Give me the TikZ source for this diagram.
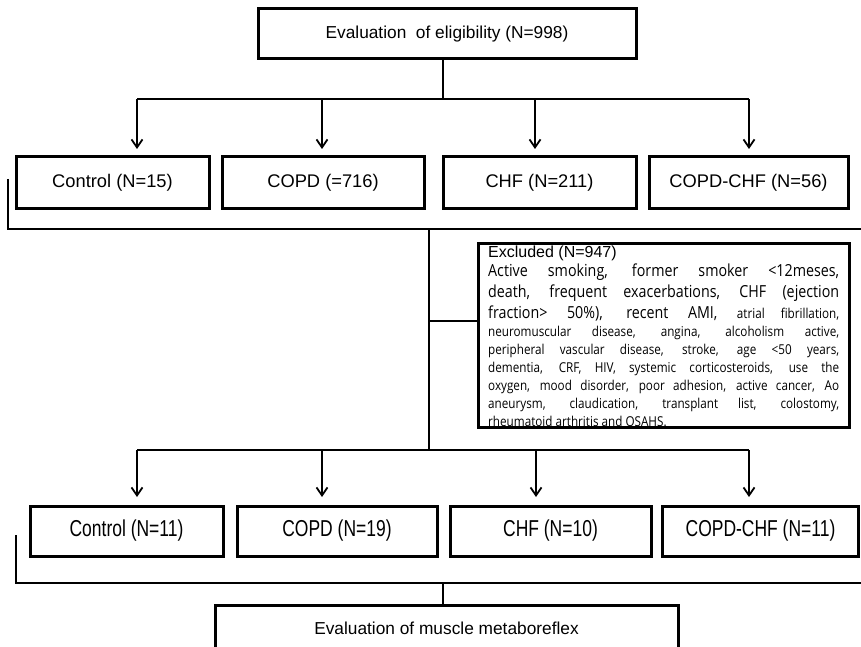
\documentclass[tikz,border=0pt]{standalone}
\usepackage{fontspec}
\setmainfont{Liberation Sans}
\newfontfamily\fb[FakeStretch=0.76]{Liberation Sans}
\newfontfamily\fx[FakeStretch=0.86]{Open Sans}
\usetikzlibrary{arrows.meta}
\newcommand{\bigx}{\fx\fontsize{16.6}{19}\selectfont}
\newcommand{\smx}{\fx\fontsize{13.6}{16}\selectfont}
\newcommand{\jl}[1]{\makebox[351pt][s]{#1}}
\begin{document}
\begin{tikzpicture}[x=1pt,y=-1pt,
  box/.style={draw, line width=3pt, inner sep=0pt},
  ln/.style={line width=2.8pt},
  arr/.style={ln, -{Straight Barb[length=8pt,width=11pt,line width=1.8pt]}},
  ta/.style={font=\fontsize{18.3}{22}\selectfont},
  tb/.style={font=\fb\fontsize{23}{26}\selectfont},
  tc/.style={font=\fontsize{17.3}{21}\selectfont},
  ex/.style={anchor=base west, inner sep=0pt}]
\path[use as bounding box] (0,0) rectangle (861,647);
% boxes
\node[box, minimum width=378pt, minimum height=50pt] (top) at (447,34) {};
\node[tc] (toptxt) at (447,34) {Evaluation\ \ of eligibility (N=998)};

\node[box, minimum width=193pt, minimum height=51pt, ta] (c1) at (112.5,182.5) {Control (N=15)};
\node[box, minimum width=202pt, minimum height=51pt, ta] (c2) at (323,182.5) {COPD (=716)};
\node[box, minimum width=193pt, minimum height=51pt, ta] (c3) at (539.5,182.5) {CHF (N=211)};
\node[box, minimum width=199pt, minimum height=51pt, ta] (c4) at (748.5,182.5) {COPD-CHF (N=56)};

\node[ex, font=\fontsize{16}{19}\selectfont] (e0) at (488,257) {Excluded (N=947)};
\node[ex] (e1) at (488,276.5) {\bigx\jl{Active smoking, former smoker <12meses,}};
\node[ex] (e2) at (488,297.5) {\bigx\jl{death, frequent exacerbations, CHF (ejection}};
\node[ex] (e3) at (488,318.5) {\bigx\jl{fraction> 50\%), recent AMI, {\smx atrial fibrillation,}}};
\node[ex] (e4) at (488,336.5) {\smx\jl{neuromuscular disease, angina, alcoholism active,}};
\node[ex] (e5) at (488,354.5) {\smx\jl{peripheral vascular disease, stroke, age <50 years,}};
\node[ex] (e6) at (488,372.5) {\smx\jl{dementia, CRF, HIV, systemic corticosteroids, use the}};
\node[ex] (e7) at (488,390.5) {\smx\jl{oxygen, mood disorder, poor adhesion, active cancer, Ao}};
\node[ex] (e8) at (488,408.5) {\smx\jl{aneurysm, claudication, transplant list, colostomy,}};
\node[ex] (e9) at (488,426.5) {\smx rheumatoid arthritis and OSAHS.};
\node[box, fill=none, minimum width=371pt, minimum height=184pt] (exc) at (663.5,335) {};

\node[box, minimum width=193pt, minimum height=50pt, tb] (d1) at (126.5,531) {Control (N=11)};
\node[box, minimum width=200pt, minimum height=50pt, tb] (d2) at (337,531) {COPD (N=19)};
\node[box, minimum width=201pt, minimum height=50pt, tb] (d3) at (550.5,531) {CHF (N=10)};
\node[box, minimum width=196pt, minimum height=50pt, tb] (d4) at (760.5,531) {COPD-CHF (N=11)};

\node[box, minimum width=463pt, minimum height=46pt] (fin) at (446.5,628) {};
\node[tc] (fintxt) at (446.5,628) {Evaluation of muscle metaboreflex};

% junction coordinates
\coordinate (j0) at (443,99);
\coordinate (h1) at (137,99);
\coordinate (h2) at (322,99);
\coordinate (h3) at (535,99);
\coordinate (h4) at (749,99);
\coordinate (a1) at (137,149);
\coordinate (a2) at (322,149);
\coordinate (a3) at (535,149);
\coordinate (a4) at (749,149);
\coordinate (b0) at (8,179);
\coordinate (b1) at (8,229);
\coordinate (b2) at (861,229);
\coordinate (v0) at (429,229);
\coordinate (v1) at (429,450);
\coordinate (vx) at (429,321);
\coordinate (g1) at (137,450);
\coordinate (g2) at (322,450);
\coordinate (g3) at (536,450);
\coordinate (g4) at (749,450);
\coordinate (k1) at (137,497);
\coordinate (k2) at (322,497);
\coordinate (k3) at (536,497);
\coordinate (k4) at (749,497);
\coordinate (m0) at (16,535);
\coordinate (m1) at (16,583);
\coordinate (m2) at (861,583);
\coordinate (m3) at (443,583);

% connectors
\draw[ln] (top.south -| j0) -- (j0);
\draw[ln] (h1) -- (h4);
\draw[arr] (h1) -- (a1);
\draw[arr] (h2) -- (a2);
\draw[arr] (h3) -- (a3);
\draw[arr] (h4) -- (a4);
\draw[ln] (b0) -- (b1) -- (b2);
\draw[ln] (v0) -- (v1);
\draw[ln] (vx) -- (vx -| exc.west);
\draw[ln] (g1) -- (g4);
\draw[arr] (g1) -- (k1);
\draw[arr] (g2) -- (k2);
\draw[arr] (g3) -- (k3);
\draw[arr] (g4) -- (k4);
\draw[ln] (m0) -- (m1) -- (m2);
\draw[ln] (m3) -- (fin.north -| m3);
\end{tikzpicture}
\end{document}
